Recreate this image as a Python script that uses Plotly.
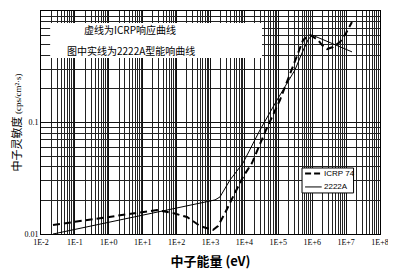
import plotly.graph_objects as go

# ---- data ----
icrp_E = [0.0226, 26.3, 78, 203, 490, 844, 1180, 1660, 2680, 4590, 9100, 16700,
          28800, 43300, 112000, 253000, 380000, 540000, 868000, 1.49e6, 1.95e6,
          2.75e6, 4.1e6, 6.6e6, 1.0e7, 1.49e7]
icrp_S = [0.01205, 0.0164, 0.0154, 0.0142, 0.0118, 0.0111, 0.01086, 0.0118, 0.0154,
          0.0215, 0.0325, 0.0433, 0.0655, 0.0857, 0.159, 0.296, 0.42, 0.55, 0.61,
          0.55, 0.495, 0.456, 0.475, 0.527, 0.635, 0.797]

a2222_E = [0.0226, 1359, 1905, 3758, 9100, 28840, 91600, 310000, 500000, 751000,
           980000, 1.49e7]
a2222_S = [0.0100, 0.0202, 0.0215, 0.0305, 0.0433, 0.0857, 0.159, 0.296, 0.42,
           0.55, 0.61, 0.43]

series_names = ["ICRP 74", "2222A"]

x_tickvals = [1e-2, 1e-1, 1e0, 1e1, 1e2, 1e3, 1e4, 1e5, 1e6, 1e7, 1e8]
x_ticktext = ["1E-2", "1E-1", "1E+0", "1E+1", "1E+2", "1E+3", "1E+4", "1E+5",
              "1E+6", "1E+7", "1E+8"]
y_tickvals = [0.01, 0.1, 1]
y_ticktext = ["0.01", "0.1", "1"]

x_minor = [m * 10 ** e for e in range(-2, 8) for m in range(2, 10)]
y_minor = [m * 10 ** e for e in range(-2, 0) for m in range(2, 10)]

DASH = "7px,4px"

fig = go.Figure()
fig.add_trace(go.Scatter(x=icrp_E, y=icrp_S, mode="lines", name=series_names[0],
                         showlegend=False,
                         line=dict(color="black", width=2, dash=DASH)))
fig.add_trace(go.Scatter(x=a2222_E, y=a2222_S, mode="lines", name=series_names[1],
                         showlegend=False,
                         line=dict(color="black", width=1)))

serif = "Liberation Serif"
cjk = "Noto Sans CJK SC"

# page body has an 8px margin, so the figure is 8px smaller and margins shifted
fig.update_layout(
    width=388, height=266,
    margin=dict(l=33, r=16, t=3, b=40, autoexpand=False),
    paper_bgcolor="white", plot_bgcolor="white",
    showlegend=False,
    xaxis=dict(type="log", range=[-2, 8], tickmode="array", automargin=False,
               tickvals=x_tickvals, ticktext=x_ticktext,
               tickfont=dict(family=serif, size=8, color="black"),
               showgrid=True, gridcolor="#111", gridwidth=1,
               showline=True, linecolor="black", linewidth=1, mirror=True,
               ticks="", zeroline=False,
               minor=dict(tickmode="array", tickvals=x_minor, showgrid=True,
                          gridcolor="#222", gridwidth=0.8, ticks=""),
               title=dict(text="<b>中子能量 (eV)</b>",
                          font=dict(family=cjk, size=13, color="black"),
                          standoff=11)),
    yaxis=dict(type="log", range=[-2, 0], tickmode="array", automargin=False,
               tickvals=y_tickvals, ticktext=y_ticktext,
               tickfont=dict(family=serif, size=8, color="black"),
               showgrid=True, gridcolor="#111", gridwidth=1,
               showline=True, linecolor="black", linewidth=1, mirror=True,
               ticks="", zeroline=False,
               minor=dict(tickmode="array", tickvals=y_minor, showgrid=True,
                          gridcolor="#222", gridwidth=0.8, ticks=""),
               title=dict(text="中子灵敏度 <span style='font-family:Liberation Serif;font-size:9px'>(cps/cm²·s)</span>",
                          font=dict(family=cjk, size=11, color="black"),
                          standoff=8)),
)

# white box behind the two notes
fig.add_shape(type="rect", xref="paper", yref="paper",
              x0=0.027, x1=0.652, y0=0.789, y1=0.946,
              fillcolor="white", line=dict(width=0), layer="above")

fig.add_annotation(text="虚线为ICRP响应曲线", xref="paper", yref="paper",
                   x=0.263, y=0.915, xanchor="center", yanchor="middle",
                   showarrow=False,
                   font=dict(family=cjk, size=10, color="black"))
fig.add_annotation(text="图中实线为2222A型能响曲线", xref="paper", yref="paper",
                   x=0.265, y=0.825, xanchor="center", yanchor="middle",
                   showarrow=False,
                   font=dict(family=cjk, size=10, color="black"))

# legend box
fig.add_shape(type="rect", xref="paper", yref="paper",
              x0=0.770, x1=0.922, y0=0.184, y1=0.296,
              fillcolor="white", line=dict(color="black", width=1), layer="above")
fig.add_shape(type="line", xref="paper", yref="paper",
              x0=0.779, x1=0.828, y0=0.271, y1=0.271,
              line=dict(color="black", width=2, dash="6px,3px"), layer="above")
fig.add_shape(type="line", xref="paper", yref="paper",
              x0=0.779, x1=0.828, y0=0.211, y1=0.211,
              line=dict(color="black", width=1), layer="above")
fig.add_annotation(text=series_names[0], xref="paper", yref="paper",
                   x=0.832, y=0.271, xanchor="left", yanchor="middle",
                   showarrow=False, borderpad=0,
                   font=dict(family="Liberation Sans", size=8, color="black"))
fig.add_annotation(text=series_names[1], xref="paper", yref="paper",
                   x=0.832, y=0.211, xanchor="left", yanchor="middle",
                   showarrow=False, borderpad=0,
                   font=dict(family="Liberation Sans", size=8, color="black"))

fig.write_html("out.html")
